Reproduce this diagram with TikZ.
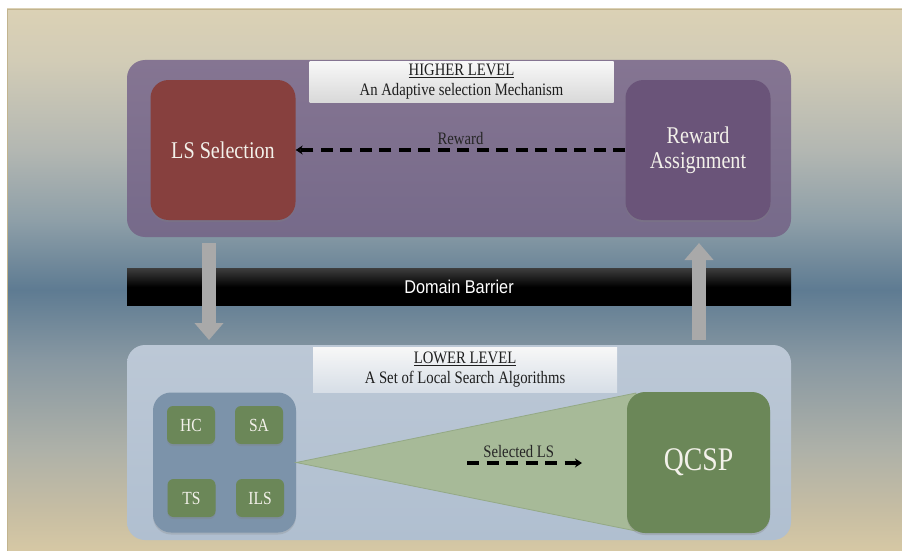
\documentclass[tikz,border=0pt]{standalone}
\usepackage{fontspec}
\setmainfont{Liberation Serif}
\newfontfamily\nserif{Liberation Serif}[FakeStretch=0.84]
\newfontfamily\nsans{Liberation Sans}[FakeStretch=0.88]
\usetikzlibrary{arrows.meta,shadows,calc}

\definecolor{bgA}{HTML}{D6C8A4}
\definecolor{bgB}{HTML}{C6BDA3}
\definecolor{bgC}{HTML}{AEB1A8}
\definecolor{bgD}{HTML}{8898A2}
\definecolor{bgE}{HTML}{5E7B92}
\definecolor{bgF}{HTML}{8E9FA8}
\definecolor{bgG}{HTML}{B3B7B2}
\definecolor{bgH}{HTML}{D2CCB6}
\definecolor{bgI}{HTML}{DBD1B5}
\definecolor{bgLine}{HTML}{C2B48E}
\definecolor{upTop}{HTML}{857592}
\definecolor{upBot}{HTML}{766A8A}
\definecolor{lsRed}{HTML}{87403E}
\definecolor{raPurple}{HTML}{6A5479}
\definecolor{lowTop}{HTML}{BCC8D6}
\definecolor{lowBot}{HTML}{B0BFD0}
\definecolor{contBlue}{HTML}{7C93AA}
\definecolor{algGreen}{HTML}{6B8758}
\definecolor{triFill}{HTML}{A7BA98}
\definecolor{triEdge}{HTML}{94A986}
\definecolor{boxText}{HTML}{F3F1EA}
\definecolor{titleText}{HTML}{1E1E1E}
\definecolor{arrowGray}{HTML}{A9A9A9}
\definecolor{barTop}{HTML}{3C3C3C}

\pgfdeclareverticalshading{bgshade}{100bp}{color(0bp)=(bgA); color(25bp)=(bgA); color(28.8bp)=(bgB); color(34.3bp)=(bgC); color(42.6bp)=(bgD); color(49.1bp)=(bgE); color(55.5bp)=(bgF); color(62bp)=(bgG); color(70.3bp)=(bgH); color(75bp)=(bgI); color(100bp)=(bgI)}

\tikzset{
  panel/.style={rounded corners=18pt, inner sep=0pt},
  titlebox/.style={inner sep=0pt, align=center, text=titleText,
    font=\nserif\fontsize{17.5}{20}\selectfont},
  bigbox/.style={rounded corners=18pt, inner sep=0pt, minimum width=145pt,
    minimum height=140pt, text=boxText, align=center,
    font=\nserif\fontsize{24}{25}\selectfont,
    drop shadow={opacity=0.3, shadow xshift=0pt, shadow yshift=-2pt}},
  algbox/.style={rounded corners=6pt, fill=algGreen, inner sep=0pt,
    minimum width=48pt, minimum height=38pt, text=boxText,
    font=\nserif\fontsize{18.5}{20}\selectfont,
    drop shadow={opacity=0.3, shadow xshift=0pt, shadow yshift=-2pt}},
  dasharrow/.style={line width=3.4pt, dash pattern=on 12pt off 7.5pt,
    -{Stealth[length=7pt,width=9pt]}},
  blockarrow/.style={draw=arrowGray, line width=14pt,
    -{Triangle[length=17pt,width=28pt]}},
  lbl/.style={font=\nserif\fontsize{17.5}{18}\selectfont, text=black!85, inner sep=1pt},
}

\begin{document}
\begin{tikzpicture}[x=1pt,y=-1pt]
\useasboundingbox (0,0) rectangle (902,551);
\fill[white] (0,0) rectangle (902,551);
\shade[shading=bgshade] (7,9) rectangle (902,551);
\draw[bgLine, line width=1pt] (7.5,551) -- (7.5,9.5) -- (902,9.5);

% upper panel
\node[panel, top color=upTop, bottom color=upBot, minimum width=664pt, minimum height=177pt] (up) at (459,148.5) {};
\node[titlebox, top color=white!97!black, bottom color=white!85!black, minimum width=304pt, minimum height=40pt] (ut) at (461.5,82) {\underline{HIGHER LEVEL}\\An Adaptive selection Mechanism};
\node[bigbox, fill=lsRed] (ls) at (223,150) {LS Selection};
\node[bigbox, fill=raPurple] (ra) at (698,150) {Reward\\Assignment};
\draw[dasharrow] (ra.west) -- (ls.east) node[lbl, pos=0.5, above=3pt, name=rwl] {Reward};

% barrier
\node[inner sep=0pt, top color=barTop, bottom color=black, middle color=black, minimum width=664pt, minimum height=37pt, text=white, font=\nsans\fontsize{18.5}{20}\selectfont] (bar) at (459,287) {Domain Barrier};

% block arrows
\coordinate (da1) at (209,243);
\coordinate (da2) at (209,340);
\coordinate (ua1) at (699,340);
\coordinate (ua2) at (699,243);
\draw[blockarrow] (da1) -- (da2);
\draw[blockarrow] (ua1) -- (ua2);

% lower panel
\node[panel, top color=lowTop, bottom color=lowBot, minimum width=664pt, minimum height=195pt] (lp) at (459,442.5) {};
\node[titlebox, top color=white!97!black, bottom color=lowTop!60!white, minimum width=304pt, minimum height=45pt] (lt) at (465,369.5) {\underline{LOWER LEVEL}\\A Set of Local Search Algorithms};

% algorithms container
\node[panel, fill=contBlue, minimum width=143pt, minimum height=140pt, drop shadow={opacity=0.25, shadow xshift=0pt, shadow yshift=-2pt}] (cont) at (224.5,462.5) {};
\node[algbox] (hc) at (191,425) {HC};
\node[algbox] (sa) at (259,425) {SA};
\node[algbox] (ts) at (191.5,498) {TS};
\node[algbox] (ils) at (260,498) {ILS};

% cone to QCSP
\coordinate (t1) at (636,393);
\coordinate (t2) at (636,531);
\fill[triFill, draw=triEdge, line width=0.8pt] (cont.east) -- (t1) -- (t2) -- cycle;

% QCSP
\node[bigbox, fill=algGreen, minimum width=143pt, minimum height=141pt, font=\nserif\fontsize{33}{34}\selectfont] (qc) at (698.5,462.5) {QCSP};

\coordinate (sl1) at (467,463);
\coordinate (sl2) at (582,463);
\draw[dasharrow] (sl1) -- (sl2) node[lbl, pos=0.45, above=3pt, name=sll] {Selected LS};
\end{tikzpicture}
\end{document}
